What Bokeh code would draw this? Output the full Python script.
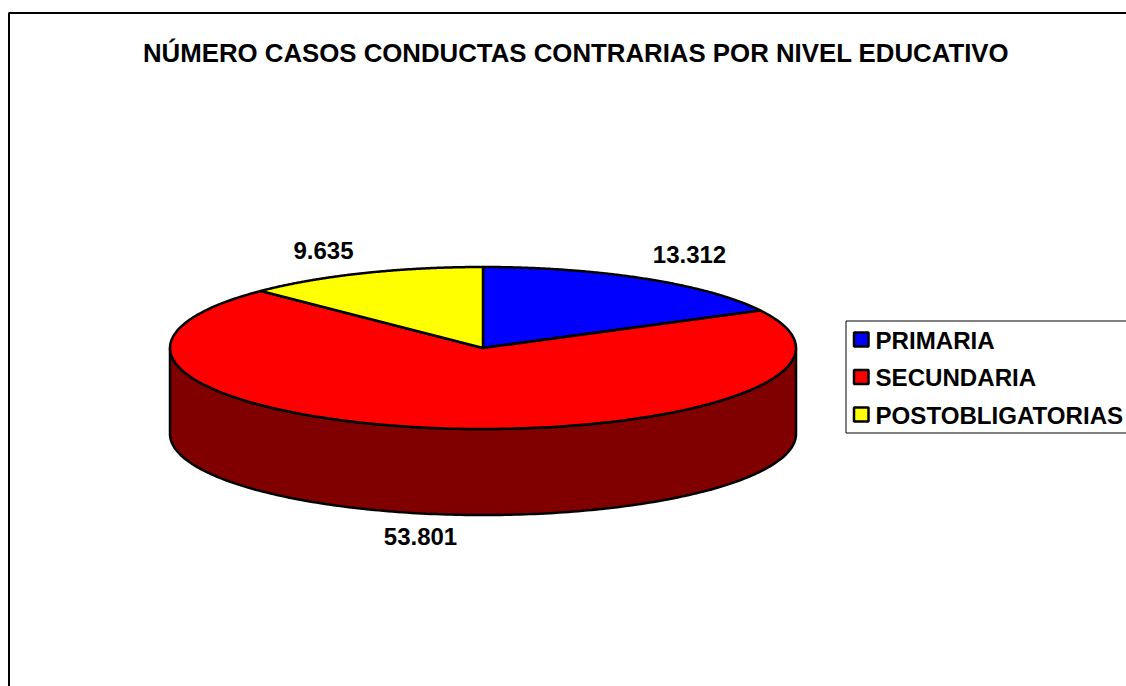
import numpy as np
from bokeh.core.properties import value
from bokeh.embed import file_html
from bokeh.models import Range1d
from bokeh.plotting import figure
from bokeh.resources import INLINE

title = "NÚMERO CASOS CONDUCTAS CONTRARIAS POR NIVEL EDUCATIVO"
categories = ["PRIMARIA", "SECUNDARIA", "POSTOBLIGATORIAS"]
values = [13312, 53801, 9635]
labels = ["13.312", "53.801", "9.635"]
colors = ["#0000ff", "#ff0000", "#ffff00"]
side_color = "#800000"

# layout, in page pixels
CX, CY, RX, RY, DEPTH = 482.5, 347.5, 313, 81, 86
label_pos = [(689, 254), (420, 536), (323, 250)]
FONT = value("Liberation Sans")

p = figure(width=1126, height=686, x_range=Range1d(0, 1126), y_range=Range1d(686, 0),
           output_backend="svg", toolbar_location=None, min_border=0,
           outline_line_color=None, background_fill_color="white")
p.axis.visible = False
p.grid.visible = False

# chart frame (left and top edges; the rest runs off the page)
p.line([8.5, 8.5, 1130], [690, 12.5, 12.5], line_color="black", line_width=2)

# cylinder side
t = np.linspace(np.pi / 2, 3 * np.pi / 2, 200)
ex, ey = CX + RX * np.sin(t), CY - RY * np.cos(t)
p.patch(np.r_[ex, ex[::-1]], np.r_[ey, ey[::-1] + DEPTH], fill_color=side_color,
        line_color="black", line_width=2.5)

# top face, clockwise from twelve o'clock
edges = np.r_[0, np.cumsum(values)] / sum(values) * 2 * np.pi
for a0, a1, c in zip(edges[:-1], edges[1:], colors):
    a = np.linspace(a0, a1, 200)
    p.patch(np.r_[CX, CX + RX * np.sin(a)], np.r_[CY, CY - RY * np.cos(a)],
            fill_color=c, line_color="black", line_width=2.5, line_join="round")

# data labels
p.text([q[0] for q in label_pos], [q[1] for q in label_pos], text=labels, text_font=FONT,
       text_font_style="bold", text_font_size="24px", text_align="center",
       text_baseline="middle", text_color="black")

# title
p.text([575.5], [52], text=[title], text_font=FONT, text_font_style="bold",
       text_font_size="25.8px", text_align="center", text_baseline="middle", text_color="black")

# legend
p.quad(left=[845.5], right=[1135], top=[320.5], bottom=[432.5], fill_color="white",
       line_color="black", line_width=1)
ly = [339, 376.5, 414]
p.quad(left=[853.5] * 3, right=[868] * 3, top=[y - 7 for y in ly], bottom=[y + 7 for y in ly],
       fill_color=colors, line_color="black", line_width=2.5)
p.text([875] * 3, [y + 0.7 for y in ly], text=categories, text_font=FONT, text_font_style="bold",
       text_font_size="24.1px", text_align="left", text_baseline="middle", text_color="black")

open("out.html", "w").write(file_html(p, INLINE))
